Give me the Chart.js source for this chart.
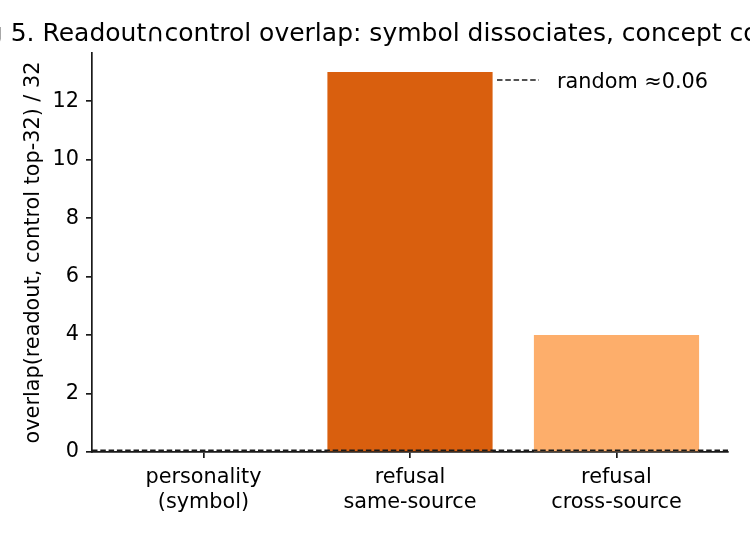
<!DOCTYPE html>
<html>
<head>
<meta charset="utf-8">
<title>Readout∩control overlap</title>
<script src="https://cdn.jsdelivr.net/npm/chart.js@4.4.1/dist/chart.umd.min.js"></script>
<style>
  html, body { margin: 0; padding: 0; background: #fff; }
  #chart { display: block; }
</style>
</head>
<body>
<canvas id="chart" width="750" height="540"></canvas>
<script>
const titleText = "Fig 5. Readout\u2229control overlap: symbol dissociates, concept converges";
const yTitle = "overlap(readout, control top-32) / 32";

// one bar per condition
const categories = [["personality", "(symbol)"], ["refusal", "same-source"], ["refusal", "cross-source"]];
const overlap = [0, 13, 4];

// chance level drawn as a dashed reference line
const randomLevel = 0.06;
const randomLabel = "random \u22480.06";

const yTicks = [0, 2, 4, 6, 8, 10, 12];
const yMax = 13.65;
const xLimits = [-0.54, 2.54];

const FONT = "'DejaVu Sans', sans-serif";
const INK = "#1a1a1a";

// title over the axes (may run off the canvas) + legend inside top right
const overlayText = {
  id: "overlayText",
  afterDraw(chart) {
    const { ctx, chartArea } = chart;
    ctx.save();
    ctx.fillStyle = "#000";
    ctx.font = "25px " + FONT;
    ctx.textAlign = "center";
    ctx.textBaseline = "alphabetic";
    ctx.fillText(titleText, (chartArea.left + chartArea.right) / 2 + 3, 41);

    const ds = chart.data.datasets[0];
    ctx.font = "20.8px " + FONT;
    const w = ctx.measureText(ds.label).width;
    const textX = chartArea.right - 20 - w;
    const midY = chartArea.top + 27;
    ctx.textAlign = "left";
    ctx.fillText(ds.label, textX, chartArea.top + 35);
    ctx.strokeStyle = ds.borderColor;
    ctx.lineWidth = ds.borderWidth;
    ctx.setLineDash(ds.borderDash);
    ctx.beginPath();
    ctx.moveTo(textX - 60, midY);
    ctx.lineTo(textX - 18, midY);
    ctx.stroke();
    ctx.restore();
  }
};

new Chart(document.getElementById("chart"), {
  type: "bar",
  data: {
    datasets: [
      {
        type: "line",
        label: randomLabel,
        data: xLimits.map(x => ({ x: x, y: randomLevel })),
        borderColor: INK,
        borderWidth: 1.7,
        borderDash: [5.5, 2.8],
        pointRadius: 0,
        order: 0
      },
      {
        label: "overlap",
        data: overlap.map((y, i) => ({ x: i, y: y })),
        backgroundColor: ["#7f7f7f", "#d95f0e", "#fdae6b"],
        barPercentage: 0.8,
        categoryPercentage: 1,
        order: 1
      }
    ]
  },
  options: {
    responsive: false,
    animation: false,
    layout: { padding: { top: 53, right: 22, left: 0, bottom: 0 } },
    plugins: {
      legend: { display: false },
      tooltip: { enabled: false },
      title: { display: false }
    },
    scales: {
      x: {
        type: "linear",
        min: xLimits[0],
        max: xLimits[1],
        offset: false,
        z: 1,
        grid: { display: true, drawOnChartArea: false, drawTicks: true, tickLength: 6, color: INK, lineWidth: 1.7, offset: false },
        border: { display: true, color: INK, width: 1.7 },
        ticks: {
          font: { family: FONT, size: 20.8 },
          color: "#000",
          padding: 7,
          maxRotation: 0,
          autoSkip: false,
          callback: v => categories[v]
        },
        afterBuildTicks: s => { s.ticks = categories.map((c, i) => ({ value: i })); },
        afterFit: s => { s.height = 88; }
      },
      y: {
        min: 0,
        max: yMax,
        z: 1,
        grid: { display: true, drawOnChartArea: false, drawTicks: true, tickLength: 6, color: INK, lineWidth: 1.7 },
        border: { display: true, color: INK, width: 1.7 },
        ticks: {
          font: { family: FONT, size: 20.8 },
          color: "#000",
          padding: 7
        },
        title: {
          display: true,
          text: yTitle,
          color: "#000",
          font: { family: FONT, size: 20.8 },
          padding: { top: 21, bottom: 0 }
        },
        afterBuildTicks: s => { s.ticks = yTicks.map(v => ({ value: v })); },
        afterFit: s => { s.width = 92; }
      }
    }
  },
  plugins: [overlayText]
});
</script>
</body>
</html>
